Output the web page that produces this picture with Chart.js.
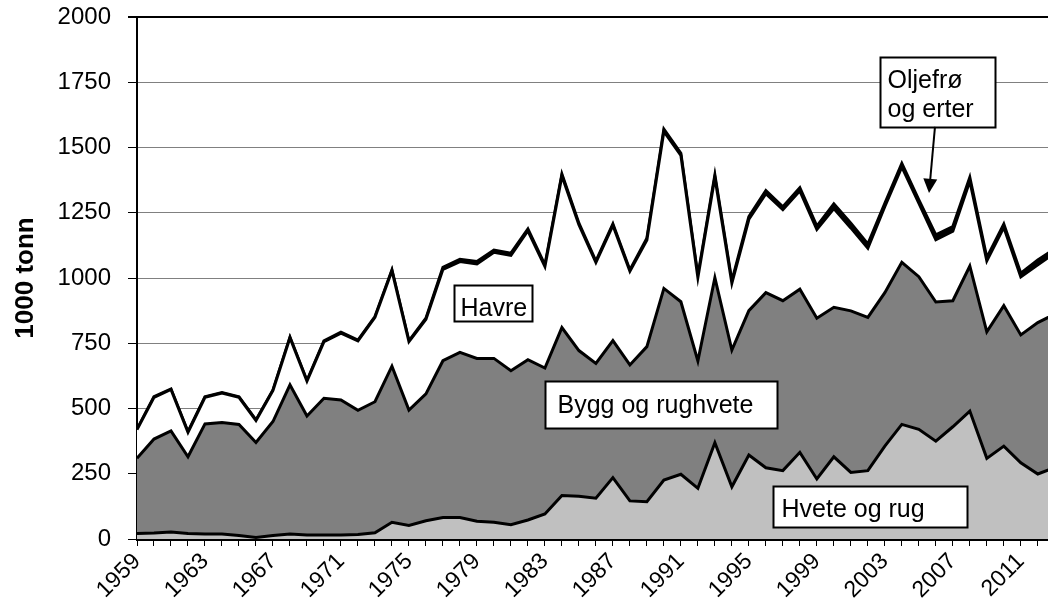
<!DOCTYPE html>
<html>
<head>
<meta charset="utf-8">
<script src="https://cdn.jsdelivr.net/npm/chart.js@4"></script>
<style>
  html, body { margin: 0; padding: 0; background: #fff; overflow: hidden; }
  #wrap { width: 1048px; height: 607px; }
</style>
</head>
<body>
<div id="wrap"><canvas id="areaChart" width="1048" height="607"></canvas></div>
<script>
// aar 1959 - 2013 (1000 tonn)
var years = [];
for (var y = 1959; y <= 2013; y++) years.push(y);

var hvete = [21, 23, 27, 21, 19, 19, 13, 6, 13, 19,
             15, 15, 15, 17, 24, 64, 52, 70, 82, 82,
             68, 64, 55, 73, 96, 167, 164, 156, 235, 146,
             143, 226, 248, 194, 369, 200, 322, 273, 262, 332,
             230, 315, 255, 262, 356, 439, 420, 375, 430, 490,
             309, 356, 292, 249, 274];

var bygg = [288, 360, 387, 294, 422, 427, 426, 364, 437, 572,
            456, 524, 518, 476, 502, 598, 442, 486, 601, 633,
            624, 628, 590, 614, 559, 643, 558, 517, 525, 521,
            594, 734, 661, 488, 632, 524, 553, 671, 651, 625,
            616, 573, 619, 587, 588, 621, 585, 533, 483, 556,
            485, 538, 490, 580, 588];

var havre = [110, 160, 159, 94, 102, 113, 104, 84, 119, 180,
             134, 217, 256, 266, 323, 366, 262, 286, 350, 348,
             362, 407, 442, 494, 389, 582, 482, 387, 442, 359,
             409, 602, 561, 320, 385, 257, 350, 379, 349, 377,
             340, 378, 318, 265, 330, 366, 282, 239, 266, 326,
             272, 300, 222, 222, 234];

var oljefro = [2, 2, 2, 2, 2, 2, 2, 2, 2, 2,
               2, 3, 3, 3, 3, 3, 3, 4, 8, 9,
               9, 8, 8, 7, 6, 6, 6, 5, 5, 5,
               6, 8, 8, 7, 9, 8, 10, 12, 11, 12,
               13, 18, 18, 16, 12, 13, 12, 18, 18, 14,
               12, 13, 14, 18, 16];

var yTicks = [0, 250, 500, 750, 1000, 1250, 1500, 1750, 2000];

// tekstbokser (aar, verdi = ovre venstre hjorne)
var labels = [
    { text: ['Havre'], year: 1977.66, value: 973, w: 78, h: 36, dx: 6, base: 30 },
    { text: ['Bygg og rughvete'], year: 1983.02, value: 605, w: 232, h: 47, dx: 12, base: 31 },
    { text: ['Hvete og rug'], year: 1996.43, value: 203, w: 194, h: 41, dx: 8, base: 30 },
    { text: ['Oljefrø', 'og erter'], year: 2002.72, value: 1847, w: 115, h: 70, dx: 7, base: 30 }
];
var arrow = { from: [2005.95, 1579], to: [2005.6, 1326] };

function pts(arr) {
    return arr.map(function (v, i) { return { x: years[i], y: v }; });
}

var FONT = '"Liberation Sans", Arial, sans-serif';

var labelPlugin = {
    id: 'labelBoxes',
    afterDraw: function (chart) {
        var ctx = chart.ctx, xs = chart.scales.x, ys = chart.scales.y;
        ctx.save();
        ctx.font = '25px ' + FONT;
        ctx.textBaseline = 'alphabetic';
        labels.forEach(function (l) {
            var x = Math.round(xs.getPixelForValue(l.year)) + 0.5;
            var y = Math.round(ys.getPixelForValue(l.value)) + 0.5;
            ctx.fillStyle = '#fff';
            ctx.fillRect(x, y, l.w, l.h);
            ctx.strokeStyle = '#000';
            ctx.lineWidth = 2;
            ctx.strokeRect(x, y, l.w, l.h);
            ctx.fillStyle = '#000';
            l.text.forEach(function (t, i) {
                ctx.fillText(t, x + l.dx, y + l.base + i * 29);
            });
        });
        // pil
        var x1 = xs.getPixelForValue(arrow.from[0]), y1 = ys.getPixelForValue(arrow.from[1]);
        var x2 = xs.getPixelForValue(arrow.to[0]), y2 = ys.getPixelForValue(arrow.to[1]);
        var a = Math.atan2(y2 - y1, x2 - x1);
        var hl = 14, hw = 7;
        var bx = x2 - hl * Math.cos(a), by = y2 - hl * Math.sin(a);
        ctx.strokeStyle = '#000';
        ctx.lineWidth = 2;
        ctx.beginPath();
        ctx.moveTo(x1, y1);
        ctx.lineTo(bx, by);
        ctx.stroke();
        ctx.beginPath();
        ctx.moveTo(x2, y2);
        ctx.lineTo(bx + hw * Math.sin(a), by - hw * Math.cos(a));
        ctx.lineTo(bx - hw * Math.sin(a), by + hw * Math.cos(a));
        ctx.closePath();
        ctx.fillStyle = '#000';
        ctx.fill();
        ctx.restore();
    }
};

function ds(label, data, bg, fill) {
    return {
        label: label,
        data: pts(data),
        backgroundColor: bg,
        borderColor: '#000',
        borderWidth: 3,
        borderJoinStyle: 'miter',
        pointRadius: 0,
        pointHoverRadius: 0,
        tension: 0,
        fill: fill
    };
}

new Chart(document.getElementById('areaChart').getContext('2d'), {
    type: 'line',
    data: {
        datasets: [
            ds('Hvete og rug', hvete, '#c0c0c0', 'origin'),
            ds('Bygg og rughvete', bygg, '#808080', '-1'),
            ds('Havre', havre, '#ffffff', '-1'),
            ds('Oljefrø og erter', oljefro, '#000000', '-1')
        ]
    },
    options: {
        responsive: false,
        animation: false,
        devicePixelRatio: 1,
        layout: { padding: { top: 17, right: 0, left: 0, bottom: 0 } },
        plugins: { legend: { display: false }, tooltip: { enabled: false } },
        scales: {
            x: {
                type: 'linear',
                min: 1959,
                max: 2012.6,
                afterBuildTicks: function (s) {
                    s.ticks = years.filter(function (v) { return v <= 2012; })
                        .map(function (v) { return { value: v }; });
                },
                afterFit: function (s) {
                    s.height = 68;
                    s.paddingLeft = 0;
                    s.paddingRight = 0;
                },
                ticks: {
                    autoSkip: false,
                    maxRotation: 45,
                    minRotation: 45,
                    padding: 2,
                    color: '#000',
                    font: { family: FONT, size: 23 },
                    callback: function (v) { return (v - 1959) % 4 === 0 ? String(v) : ''; }
                },
                grid: { drawOnChartArea: false, tickLength: 7, tickColor: '#000', tickWidth: 1 },
                border: { color: '#000', width: 3 }
            },
            y: {
                stacked: true,
                min: 0,
                max: 2000,
                afterBuildTicks: function (s) {
                    s.ticks = yTicks.map(function (v) { return { value: v }; });
                },
                afterFit: function (s) {
                    s.width = 137;
                    s.paddingTop = 0;
                    s.paddingBottom = 0;
                },
                ticks: {
                    padding: 17,
                    color: '#000',
                    font: { family: FONT, size: 24 },
                    callback: function (v) { return String(v); }
                },
                grid: {
                    color: function (c) { return c.tick && c.tick.value === 2000 ? '#000' : '#808080'; },
                    lineWidth: function (c) { return c.tick && c.tick.value === 2000 ? 2 : 1; },
                    tickColor: '#000',
                    tickLength: 9
                },
                border: { color: '#000', width: 2 },
                title: {
                    display: true,
                    text: '1000 tonn',
                    color: '#000',
                    font: { family: FONT, size: 26, weight: 'bold' },
                    padding: { top: 10, bottom: 0 }
                }
            }
        }
    },
    plugins: [labelPlugin]
});
</script>
</body>
</html>
